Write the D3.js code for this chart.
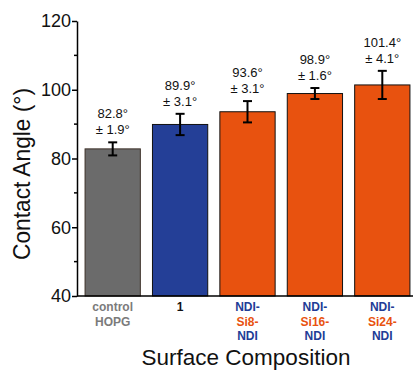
<!DOCTYPE html>
<html>
<head>
<meta charset="utf-8">
<script src="https://cdn.jsdelivr.net/npm/d3@7"></script>
<style>
  body { margin: 0; background: #fff; }
  text { font-family: "Liberation Sans", Arial, sans-serif; }
</style>
</head>
<body>
<script>
var width = 413;
var height = 370;

// data
var categories = ["control HOPG", "1", "NDI-Si8-NDI", "NDI-Si16-NDI", "NDI-Si24-NDI"];
var angles = [82.8, 89.9, 93.6, 98.9, 101.4];
var errors = [1.9, 3.1, 3.1, 1.6, 4.1];
var barColours = ["#6b6b6b", "#243f97", "#e8520f", "#e8520f", "#e8520f"];
var yTicks = [40, 60, 80, 100, 120];
var yMinorTicks = [50, 70, 90, 110];
// category labels, line by line, each piece with its colour
var labelLines = [
    [["control", "#7b7b7b"], ["HOPG", "#7b7b7b"]],
    [["1", "#111111"]],
    [["NDI-", "#223c96"], ["Si8-", "#e8520f"], ["NDI", "#223c96"]],
    [["NDI-", "#223c96"], ["Si16-", "#e8520f"], ["NDI", "#223c96"]],
    [["NDI-", "#223c96"], ["Si24-", "#e8520f"], ["NDI", "#223c96"]]
];

var svg = d3.select("body").append("svg")
    .attr("width", width)
    .attr("height", height);

var x = d3.scaleBand()
    .domain(categories)
    .range([79, 416])
    .paddingInner(0.18)
    .paddingOuter(0.09);

var y = d3.scaleLinear()
    .domain([40, 120])
    .range([296, 21]);

// bars
svg.append("g").selectAll("rect")
    .data(categories)
    .enter().append("rect")
    .attr("x", function (d) { return x(d); })
    .attr("y", function (d, i) { return y(angles[i]); })
    .attr("width", x.bandwidth())
    .attr("height", function (d, i) { return y(40) - y(angles[i]); })
    .attr("fill", function (d, i) { return barColours[i]; })
    .attr("stroke", function (d, i) { return i == 0 ? "#3d3128" : "#111"; })
    .attr("stroke-width", 1);

// error bars
var err = svg.append("g")
    .attr("stroke", "#000")
    .attr("stroke-width", 2);

categories.forEach(function (c, i) {
    var cx = x(c) + x.bandwidth() / 2;
    var top = y(angles[i] + errors[i]);
    var bot = y(angles[i] - errors[i]);
    err.append("line").attr("x1", cx).attr("x2", cx).attr("y1", top).attr("y2", bot);
    err.append("line").attr("x1", cx - 4.5).attr("x2", cx + 4.5).attr("y1", top).attr("y2", top);
    err.append("line").attr("x1", cx - 4.5).attr("x2", cx + 4.5).attr("y1", bot).attr("y2", bot);

    // value labels above
    var t = svg.append("text")
        .attr("x", cx)
        .attr("text-anchor", "middle")
        .style("font-size", "13px")
        .attr("fill", "#111");
    t.append("tspan").attr("x", cx).attr("y", top - 24).text(angles[i].toFixed(1) + "°");
    t.append("tspan").attr("x", cx).attr("y", top - 8).text("± " + errors[i].toFixed(1) + "°");
});

// y axis
var yAxis = svg.append("g")
    .attr("transform", "translate(77,0)")
    .call(d3.axisLeft(y).tickValues(yTicks).tickSize(5).tickSizeOuter(0));
yAxis.select(".domain").attr("stroke-width", 1.5);
yAxis.selectAll(".tick line").attr("stroke-width", 1.5);
yAxis.selectAll(".tick text")
    .style("font-size", "18px")
    .attr("x", -6)
    .attr("fill", "#111");

svg.append("g").selectAll("line")
    .data(yMinorTicks)
    .enter().append("line")
    .attr("x1", 74).attr("x2", 77)
    .attr("y1", function (d) { return y(d); })
    .attr("y2", function (d) { return y(d); })
    .attr("stroke", "#000")
    .attr("stroke-width", 1.5);

// bottom axis line
svg.append("line")
    .attr("x1", 77).attr("x2", 413)
    .attr("y1", y(40)).attr("y2", y(40))
    .attr("stroke", "#000")
    .attr("stroke-width", 1.5);

// category labels
categories.forEach(function (c, i) {
    var cx = x(c) + x.bandwidth() / 2;
    labelLines[i].forEach(function (ln, j) {
        svg.append("text")
            .attr("x", cx)
            .attr("y", 311 + j * 14.5)
            .attr("text-anchor", "middle")
            .style("font-size", "12px")
            .style("font-weight", "bold")
            .attr("fill", ln[1])
            .text(ln[0]);
    });
});

// axis titles
svg.append("text")
    .attr("x", 246)
    .attr("y", 365)
    .attr("text-anchor", "middle")
    .style("font-size", "22.5px")
    .attr("fill", "#111")
    .text("Surface Composition");

svg.append("text")
    .attr("transform", "translate(30,174) rotate(-90)")
    .attr("text-anchor", "middle")
    .attr("textLength", 172)
    .attr("lengthAdjust", "spacingAndGlyphs")
    .style("font-size", "24px")
    .attr("fill", "#111")
    .text("Contact Angle (°)");
</script>
</body>
</html>
